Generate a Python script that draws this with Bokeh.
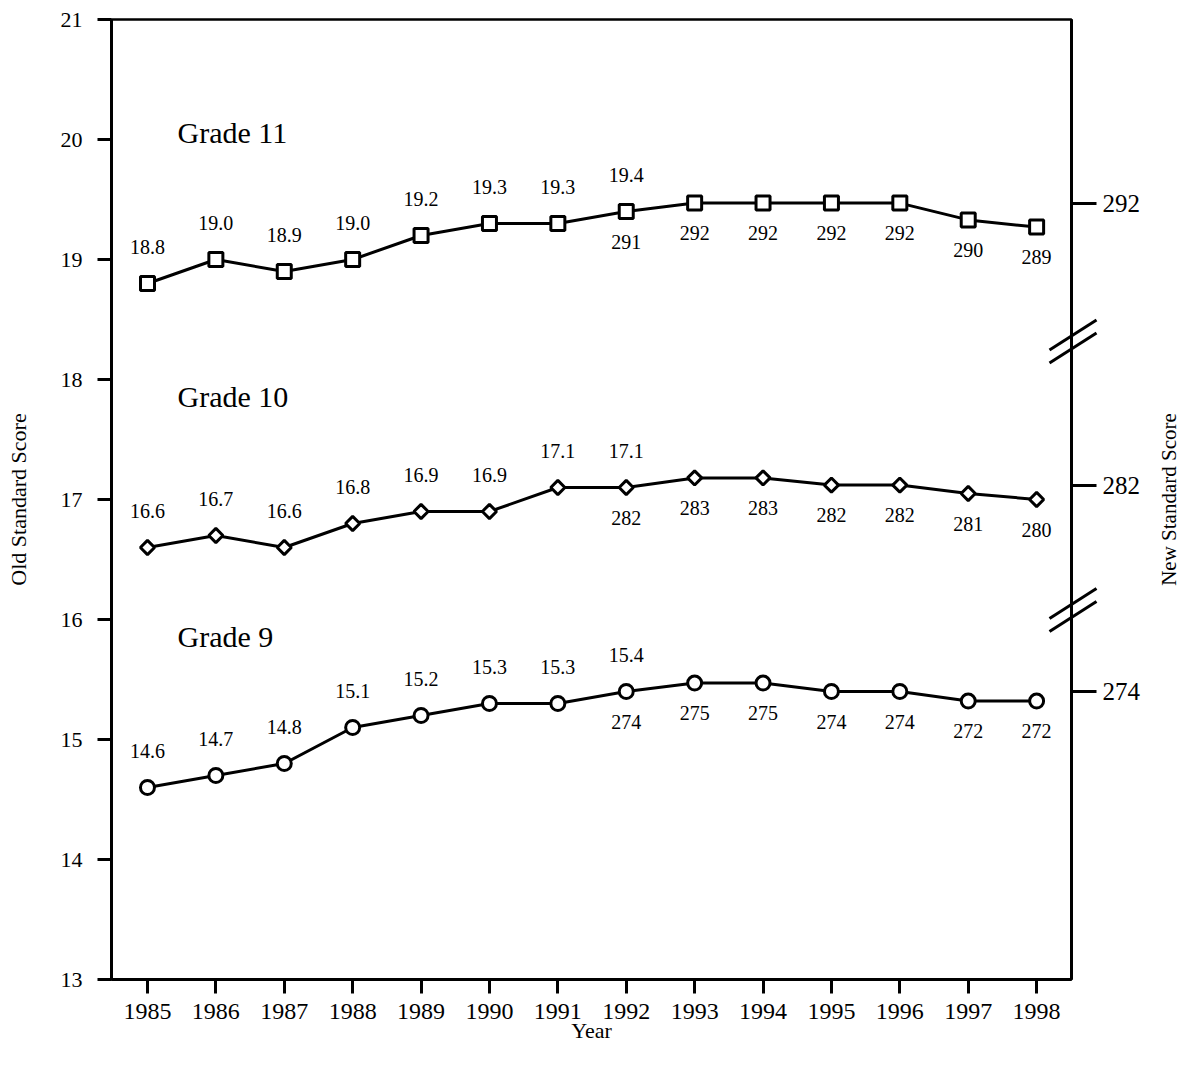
import math
from bokeh.plotting import figure
from bokeh.models import LinearAxis, FixedTicker, Range1d
from bokeh.core.properties import value
from bokeh.embed import file_html
from bokeh.resources import INLINE

# ---------------- data ----------------
years = [1985, 1986, 1987, 1988, 1989, 1990, 1991, 1992, 1993, 1994, 1995, 1996, 1997, 1998]

# plotted positions on the old-score scale
grade11_y = [18.8, 19.0, 18.9, 19.0, 19.2, 19.3, 19.3, 19.4, 19.47, 19.47, 19.47, 19.47, 19.33, 19.27]
grade10_y = [16.6, 16.7, 16.6, 16.8, 16.9, 16.9, 17.1, 17.1, 17.18, 17.18, 17.12, 17.12, 17.05, 17.0]
grade9_y = [14.6, 14.7, 14.8, 15.1, 15.2, 15.3, 15.3, 15.4, 15.47, 15.47, 15.4, 15.4, 15.32, 15.32]

# old standard score labels (1985-1992)
old_years = years[:8]
grade11_old = ["18.8", "19.0", "18.9", "19.0", "19.2", "19.3", "19.3", "19.4"]
grade10_old = ["16.6", "16.7", "16.6", "16.8", "16.9", "16.9", "17.1", "17.1"]
grade9_old = ["14.6", "14.7", "14.8", "15.1", "15.2", "15.3", "15.3", "15.4"]

# new standard score labels (1992-1998)
new_years = years[7:]
grade11_new = ["291", "292", "292", "292", "292", "290", "289"]
grade10_new = ["282", "283", "283", "282", "282", "281", "280"]
grade9_new = ["274", "275", "275", "274", "274", "272", "272"]

grade_names = ["Grade 11", "Grade 10", "Grade 9"]
left_ticks = [13, 14, 15, 16, 17, 18, 19, 20, 21]
right_ticks = [292, 282, 274]
right_title = "New Standard Score"

FONT = "Liberation Serif"

# ---------------- figure ----------------
X0, X1 = 1984.474, 1998.51
Y0, Y1 = 13, 21
FW, FH = 960, 960

p = figure(frame_width=FW, frame_height=FH,
           x_range=Range1d(X0, X1), y_range=Range1d(Y0, Y1),
           output_backend="svg", toolbar_location=None,
           min_border_left=111, min_border_top=19, min_border_right=112, min_border_bottom=10,
           background_fill_color="white", border_fill_color="white")
p.xgrid.visible = False
p.ygrid.visible = False
p.outline_line_color = "black"
p.outline_line_width = 2.5
p.outline_line_alpha = 1.0


def style_axis(ax, tick_out, label_size, standoff):
    ax.axis_line_color = "black"
    ax.axis_line_width = 3
    ax.major_tick_line_color = "black"
    ax.major_tick_line_width = 3
    ax.major_tick_out = tick_out
    ax.major_tick_in = 0
    ax.minor_tick_line_color = None
    ax.major_label_text_font = FONT
    ax.major_label_text_font_size = label_size
    ax.major_label_text_color = "black"
    ax.major_label_standoff = standoff
    ax.axis_label_text_font = FONT
    ax.axis_label_text_font_style = "normal"
    ax.axis_label_text_font_size = "22px"
    ax.axis_label_text_color = "black"


xa = p.xaxis[0]
xa.ticker = FixedTicker(ticks=years)
style_axis(xa, 14, "24px", 10)
xa.axis_label = "Year"
xa.axis_label_standoff = -4

ya = p.yaxis[0]
ya.ticker = FixedTicker(ticks=left_ticks)
style_axis(ya, 14, "22px", 15)
ya.axis_label = "Old Standard Score"
ya.axis_label_standoff = 27

# right axis: positions taken where each new score is plotted
series_y = [grade11_y, grade10_y, grade9_y]
series_new = [grade11_new, grade10_new, grade9_new]
right_pos = []
for t, ys, labs in zip(right_ticks, series_y, series_new):
    idx = len(labs) - 1 - labs[::-1].index(str(t))
    right_pos.append(ys[7 + idx])
ra = LinearAxis(ticker=FixedTicker(ticks=right_pos),
                major_label_overrides={pos: str(t) for pos, t in zip(right_pos, right_ticks)})
style_axis(ra, 25, "25px", 6)
p.add_layout(ra, "right")

# right axis title, reading bottom to top, drawn outside the frame
p.text(x=[X1], y=[(Y0 + Y1) / 2], text=[right_title], angle=math.pi / 2,
       x_offset=97, text_align="center", text_baseline="middle",
       text_font=value(FONT), text_font_size="21px", text_color="black", level="overlay")

# ---------------- series ----------------
markers = [("square", 0.0, 14), ("square", math.pi / 4, 10), ("circle", 0.0, 14)]
old_sets = [grade11_old, grade10_old, grade9_old]
for name, ys, olds, news, (mk, ang, sz) in zip(grade_names, series_y, old_sets, series_new, markers):
    p.line(years, ys, line_color="black", line_width=3)
    p.scatter(years, ys, marker=mk, angle=ang, size=sz, fill_color="white",
              line_color="black", line_width=3)
    p.text(x=old_years, y=ys[:8], text=olds, text_align="center", text_baseline="middle",
           y_offset=-37, text_font=value(FONT), text_font_size="20px", text_color="black")
    p.text(x=new_years, y=ys[7:], text=news, text_align="center", text_baseline="middle",
           y_offset=30, text_font=value(FONT), text_font_size="20px", text_color="black")
    p.text(x=[years[0]], y=[ys[0]], text=[name], text_align="left", text_baseline="middle",
           x_offset=30, y_offset=-151, text_font=value(FONT), text_font_size="30px",
           text_color="black")

# ---------------- axis break marks (drawn above the frame clip) ----------------
xpx = FW / (X1 - X0)
ypx = FH / (Y1 - Y0)
bx0, bx1, by0, by1 = [], [], [], []
for yc in [18.317, 16.08]:
    for dy in [6.5, -6.5]:
        bx0.append(X1 - 22 / xpx)
        by0.append(yc + (dy - 15) / ypx)
        bx1.append(X1 + 25 / xpx)
        by1.append(yc + (dy + 15) / ypx)
p.segment(x0=bx0, y0=by0, x1=bx1, y1=by1, line_color="black", line_width=3, level="overlay")

open("out.html", "w").write(file_html(p, INLINE))
